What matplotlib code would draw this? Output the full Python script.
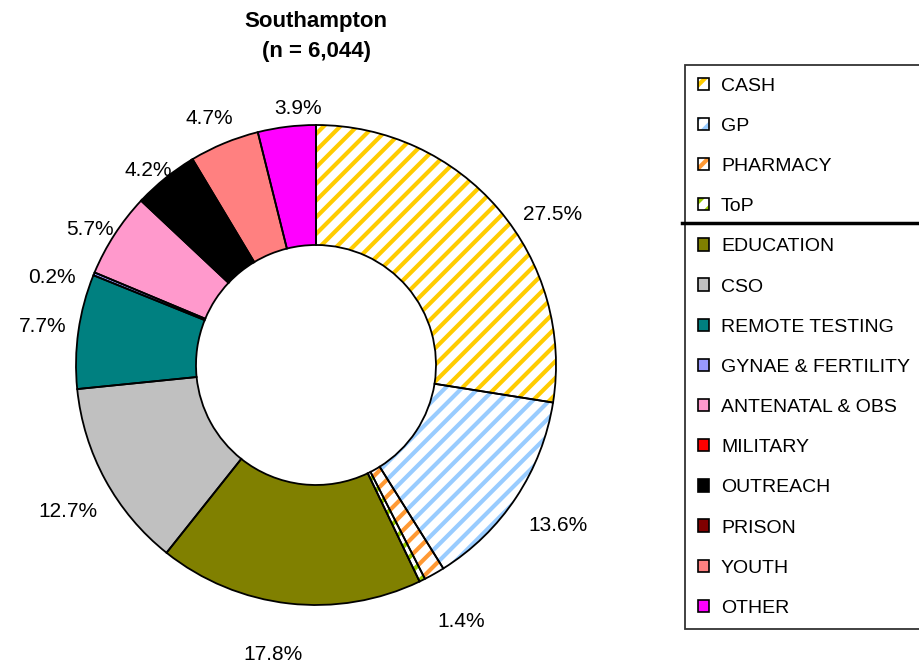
import numpy as np
import matplotlib
matplotlib.use("Agg")
import matplotlib.pyplot as plt
from matplotlib.patches import Patch
from matplotlib.lines import Line2D
from matplotlib.legend_handler import HandlerTuple

plt.rcParams['font.family'] = ['Liberation Sans', 'DejaVu Sans']
plt.rcParams['hatch.linewidth'] = 3.0

# data
categories = ['CASH', 'GP', 'PHARMACY', 'ToP', 'EDUCATION', 'CSO', 'REMOTE TESTING',
              'GYNAE & FERTILITY', 'ANTENATAL & OBS', 'MILITARY', 'OUTREACH', 'PRISON',
              'YOUTH', 'OTHER']
shares = [27.5, 13.6, 1.4, 0.4, 17.8, 12.7, 7.7, 0.2, 5.7, 0.1, 4.2, 0.1, 4.7, 3.9]
show_label = [True, True, True, False, True, True, True, True, True, False, True, False, True, True]
title = ["Southampton", "(n = 6,044)"]

# styling
colors = ['#FFCC00', '#99CCFF', '#FF9933', '#99CC00', '#808000', '#C0C0C0', '#008080',
          '#9999FF', '#FF99CC', '#FF0000', '#000000', '#800000', '#FF8080', '#FF00FF']
hatched = [True, True, True, True] + [False] * 10
label_dist = [1.17, 1.21, 1.23, 1.2, 1.22, 1.2, 1.15, 1.16, 1.1, 1.1, 1.07, 1.1, 1.12, 1.07]
label_shift = [-8, 0, 0, 0, -2, 2, 0, 4, 2, 0, 2, 0, 1, -3]

fig = plt.figure(figsize=(9.2, 6.63), dpi=100)
ax = fig.add_axes([76 / 920, 58 / 663, 480 / 920, 480 / 663])

face = ['white' if h else c for c, h in zip(colors, hatched)]
wedges, _ = ax.pie(shares, colors=face, startangle=90, counterclock=False,
                   wedgeprops=dict(width=0.5, linewidth=0))
for w, c, h in zip(wedges, colors, hatched):
    if h:
        w.set_hatch('//')
        w.set_edgecolor(c)

# black outlines on top
ax.pie(shares, colors=['none'] * len(shares), startangle=90, counterclock=False,
       wedgeprops=dict(width=0.5, linewidth=1.3, edgecolor='black', fill=False))

for w, v, s, d, sh in zip(wedges, shares, show_label, label_dist, label_shift):
    if not s:
        continue
    ang = np.deg2rad((w.theta1 + w.theta2) / 2 + sh)
    ax.text(d * np.cos(ang), d * np.sin(ang), f"{v:.1f}%", ha='center', va='center',
            fontsize=15)

ax.set_xlim(-1, 1)
ax.set_ylim(-1, 1)
ax.set_aspect('equal')

fig.text(316 / 920, 1 - 22 / 663, title[0], ha='center', va='center',
         fontsize=16, fontweight='bold')
fig.text(316 / 920, 1 - 52 / 663, title[1], ha='center', va='center',
         fontsize=16, fontweight='bold')

handles = []
for c, h in zip(colors, hatched):
    if h:
        handles.append((Patch(facecolor='white', edgecolor=c, hatch='//', linewidth=0),
                        Patch(facecolor='none', edgecolor='black', linewidth=1.2)))
    else:
        handles.append(Patch(facecolor=c, edgecolor='black', linewidth=1.2))

leg = fig.legend(handles, categories, loc='upper left',
                 bbox_to_anchor=(685 / 920, 1 - 65 / 663), borderaxespad=0,
                 fontsize=14, frameon=True, fancybox=False, edgecolor='#333333',
                 framealpha=1, handlelength=0.6, handleheight=0.6, handletextpad=0.6,
                 labelspacing=1.19, borderpad=0.65,
                 handler_map={tuple: HandlerTuple(ndivide=1, pad=0)})
leg.get_frame().set_linewidth(1.3)

fig.add_artist(Line2D([682 / 920, 1.0], [1 - 223 / 663] * 2, color='black', linewidth=2.5,
                      transform=fig.transFigure, zorder=10))

fig.savefig('out.png', dpi=100)
